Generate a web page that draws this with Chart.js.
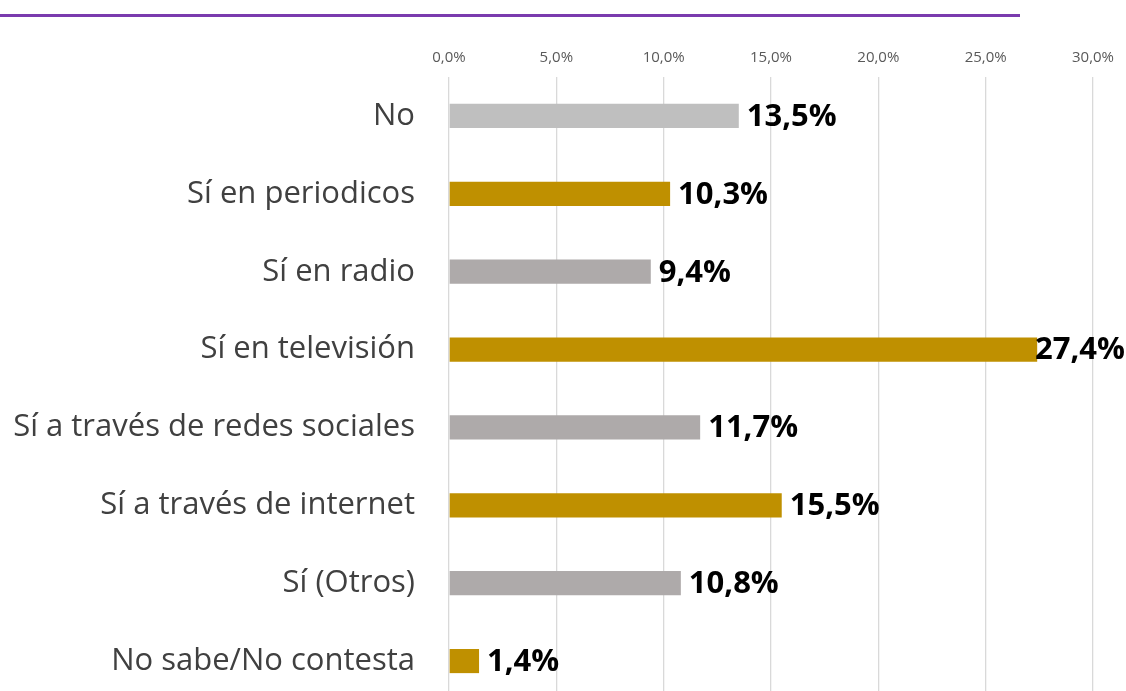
<!DOCTYPE html>
<html>
<head>
<meta charset="utf-8">
<script src="https://cdn.jsdelivr.net/npm/chart.js@4"></script>
<style>
html,body{margin:0;padding:0;background:#fff;overflow:hidden;}
#wrap{width:1126px;height:700px;}
</style>
</head>
<body>
<div id="wrap"><canvas id="c" width="1126" height="700"></canvas></div>
<script>
const categories = ["No","Sí en periodicos","Sí en radio","Sí en televisión","Sí a través de redes sociales","Sí a través de internet","Sí (Otros)","No sabe/No contesta"];
const values = [13.5,10.3,9.4,27.4,11.7,15.5,10.8,1.4];
const barColors = ["#BFBFBF","#BF9000","#AEAAAA","#BF9000","#AEAAAA","#BF9000","#AEAAAA","#BF9000"];
const tickValues = [0,5,10,15,20,25,30];

const fmt = (v, d) => v.toFixed(d).replace('.', ',') + '%';

const decor = {
  id: 'decor',
  beforeDraw(chart) {
    const ctx = chart.ctx;
    ctx.save();
    ctx.strokeStyle = '#7A3BAE';
    ctx.lineWidth = 3;
    ctx.beginPath();
    ctx.moveTo(0, 15.5);
    ctx.lineTo(1020, 15.5);
    ctx.stroke();
    ctx.restore();
  },
  afterDatasetsDraw(chart) {
    const ctx = chart.ctx;
    const meta = chart.getDatasetMeta(0);
    ctx.save();
    ctx.font = 'bold 31px "Open Sans"';
    ctx.fillStyle = '#000';
    ctx.textBaseline = 'middle';
    ctx.textAlign = 'left';
    meta.data.forEach((bar, i) => {
      const txt = fmt(values[i], 1);
      const w = ctx.measureText(txt).width;
      let x = bar.x + 8;
      if (x + w > chart.width - 1) x = chart.width - 1 - w;
      ctx.fillText(txt, x, bar.y + 1);
    });
    ctx.restore();
  }
};

new Chart(document.getElementById('c'), {
  type: 'bar',
  data: {
    labels: categories,
    datasets: [{
      data: values,
      backgroundColor: barColors,
      borderWidth: 0,
      barPercentage: 0.31,
      categoryPercentage: 1
    }]
  },
  options: {
    indexAxis: 'y',
    responsive: false,
    animation: false,
    layout: { padding: { left: 0, right: 33, top: 0, bottom: 0 } },
    plugins: { legend: { display: false }, tooltip: { enabled: false } },
    scales: {
      x: {
        position: 'top',
        min: 0,
        max: 30,
        afterBuildTicks: s => { s.ticks = tickValues.map(v => ({ value: v })); },
        afterFit: s => { s.height = 77; },
        ticks: {
          padding: 10,
          color: '#595959',
          font: { family: 'Open Sans', size: 15 },
          callback: v => fmt(v, 1)
        },
        grid: { color: '#D9D9D9', lineWidth: 1.3, drawTicks: false },
        border: { display: false }
      },
      y: {
        afterFit: s => { s.width = 449; s.paddingTop = 0; s.paddingBottom = 0; },
        ticks: {
          autoSkip: false,
          padding: 34,
          color: '#404040',
          font: { family: 'Open Sans', size: 31 }
        },
        grid: { display: false, drawTicks: false },
        border: { display: false }
      }
    }
  },
  plugins: [decor]
});
</script>
</body>
</html>
